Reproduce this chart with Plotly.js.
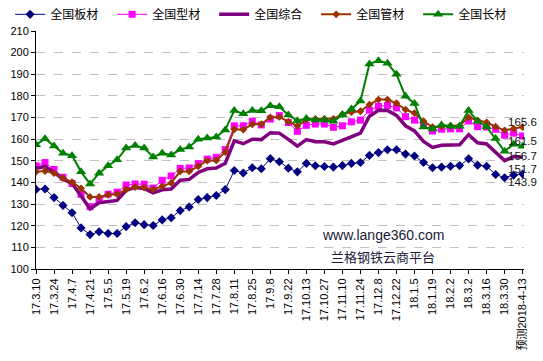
<!DOCTYPE html>
<html>
<head>
<meta charset="utf-8">
<script src="https://cdn.plot.ly/plotly-3.0.1.min.js"></script>
<style>html,body{margin:0;padding:0;background:#fff;}#chart{width:543px;height:361px;}</style>
</head>
<body>
<div id="chart"></div>
<script>
var categories = ["17.3.10","17.3.17","17.3.24","17.3.31","17.4.7","17.4.14","17.4.21","17.4.28","17.5.5","17.5.12",
"17.5.19","17.5.26","17.6.2","17.6.9","17.6.16","17.6.23","17.6.30","17.7.7","17.7.14","17.7.21",
"17.7.28","17.8.4","17.8.11","17.8.18","17.8.25","17.9.1","17.9.8","17.9.15","17.9.22","17.9.29",
"17.10.13","17.10.20","17.10.27","17.11.3","17.11.10","17.11.17","17.11.24","17.12.1","17.12.8","17.12.15",
"17.12.22","17.12.29","18.1.5","18.1.12","18.1.19","18.1.26","18.2.2","18.2.9","18.3.2","18.3.9",
"18.3.16","18.3.23","18.3.30","18.4.6","预测2018-4-13"];

var tickLabels = ["17.3.10","17.3.24","17.4.7","17.4.21","17.5.5","17.5.19","17.6.2","17.6.16","17.6.30","17.7.14",
"17.7.28","17.8.11","17.8.25","17.9.8","17.9.22","17.10.13","17.10.27","17.11.10","17.11.24","17.12.8",
"17.12.22","18.1.5","18.1.19","18.2.2","18.3.2","18.3.16","18.3.30","预测2018-4-13"];

var seriesNames = ["全国板材","全国型材","全国综合","全国管材","全国长材"];

var banCai = [136.8,137.0,133.0,129.4,126.0,119.0,115.9,117.2,116.4,116.4,
119.6,121.4,120.5,120.1,122.7,123.7,127.0,128.7,132.1,133.0,
134.0,136.7,145.5,144.4,146.8,146.3,151.0,149.6,146.6,144.9,
148.8,147.7,147.4,147.1,147.8,148.8,149.2,152.5,153.8,155.1,
155.1,153.1,152.2,149.2,146.8,147.1,147.5,147.8,150.9,148.0,
147.5,143.7,142.2,143.4,143.9];

var xingCai = [147.7,149.2,146.0,142.4,139.5,134.5,128.8,131.8,134.6,135.5,
138.8,139.3,139.2,137.4,141.0,143.0,146.5,146.7,148.7,150.8,
151.6,155.2,166.2,166.2,168.3,166.6,169.3,170.9,167.7,163.6,
166.4,167.0,167.0,165.5,166.2,168.0,168.8,173.4,175.2,175.6,
174.5,170.4,168.8,166.6,163.8,164.6,164.8,164.8,168.4,165.8,
165.6,164.6,161.8,162.8,161.5];

var zongHe = [146.6,147.4,144.8,141.5,139.6,133.6,127.8,130.6,131.1,131.7,
136.4,137.7,137.2,135.2,136.6,137.0,141.0,141.4,144.6,146.3,
146.7,148.9,159.2,157.9,160.0,159.8,163.0,162.8,159.9,156.8,
159.8,158.8,158.8,157.8,159.5,161.3,162.8,170.6,173.4,173.3,
171.0,166.2,163.8,159.0,156.2,157.2,157.4,157.4,162.1,158.3,
157.8,154.0,150.1,152.0,151.7];

var guanCai = [144.9,145.3,144.3,142.0,140.1,137.3,133.3,133.3,134.3,134.6,
136.7,137.9,137.6,136.8,138.2,139.8,145.1,145.1,147.5,150.1,
150.2,154.0,164.6,164.4,166.9,166.9,170.1,170.3,168.1,166.1,
169.0,169.4,169.4,169.4,171.5,172.5,172.9,176.0,178.3,178.3,
176.6,173.7,172.0,168.3,165.6,166.0,166.2,166.2,170.1,168.7,
167.8,165.8,164.1,164.9,165.6];

var changCai = [157.4,160.2,156.9,153.5,152.4,144.9,139.3,144.3,147.7,150.5,
155.9,157.1,155.9,151.8,153.5,152.7,155.2,156.4,160.0,160.5,
161.0,164.3,173.2,171.7,173.3,173.1,175.5,175.0,171.2,168.5,
169.6,168.9,168.9,168.3,171.3,173.9,177.7,194.8,196.2,195.1,
190.0,179.8,176.5,165.6,164.7,166.6,166.0,166.0,173.3,168.3,
165.8,160.3,154.4,157.7,156.7];

var allSeries = [banCai, xingCai, zongHe, guanCai, changCai];
var colors = ["#000080","#FF00FF","#800080","#993300","#008000"];
var lineWidths = [1, 1, 3.5, 2, 2];
var symbols = ["diamond","square",null,"diamond","triangle-up"];
var markerSizes = [7, 7, 0, 6, 9];
var labelShift = [-8, -5, -11.5, 5, -9.5];

var fontFam = "'Liberation Sans', Arial, 'Noto Sans CJK SC', sans-serif";
var cjkFam = "'Noto Sans CJK SC', 'Liberation Sans', sans-serif";

var traces = allSeries.map(function(vals, i) {
  var t = {
    type: "scatter",
    x: categories,
    y: vals,
    name: seriesNames[i],
    line: {color: colors[i], width: lineWidths[i]},
    hoverinfo: "x+y+name"
  };
  if (symbols[i]) {
    t.mode = "lines+markers";
    t.marker = {symbol: symbols[i], size: markerSizes[i], color: colors[i], line: {width: 0}};
  } else {
    t.mode = "lines";
  }
  return t;
});

var last = categories.length - 1;
var annotations = allSeries.map(function(vals, i) {
  return {
    x: categories[last], y: vals[last], xref: "x", yref: "y",
    text: vals[last].toFixed(1), showarrow: false,
    xanchor: "center", yanchor: "middle", yshift: labelShift[i],
    font: {family: fontFam, size: 11.5, color: "#111111"}
  };
});
annotations.push({
  xref: "paper", yref: "paper", x: 0.7106, y: 0.1436,
  text: "www.lange360.com", showarrow: false, xanchor: "center", yanchor: "middle",
  font: {family: fontFam, size: 14, color: "#1a1a3a"}
});
annotations.push({
  xref: "paper", yref: "paper", x: 0.7106, y: 0.0512,
  text: "兰格钢铁云商平台", showarrow: false, xanchor: "center", yanchor: "middle",
  font: {family: cjkFam, size: 13, color: "#1a1a3a"}
});

var layout = {
  width: 543, height: 361,
  margin: {l: 35.5, r: 18.5, t: 31, b: 91.8, pad: 0, autoexpand: false},
  paper_bgcolor: "#ffffff", plot_bgcolor: "#ffffff",
  showlegend: true,
  legend: {
    orientation: "h", x: -0.053, y: 1.07, xanchor: "left", yanchor: "middle",
    entrywidth: 57, entrywidthmode: "pixels",
    font: {family: cjkFam, size: 12, color: "#000000"},
    bgcolor: "rgba(0,0,0,0)", traceorder: "normal", itemclick: false
  },
  xaxis: {
    type: "category",
    range: [0, 54.15],
    tickmode: "array", tickvals: tickLabels, ticktext: tickLabels,
    tickangle: -90,
    ticks: "outside", ticklen: 4, tickcolor: "#000000",
    showline: true, linecolor: "#000000", linewidth: 1,
    showgrid: false, zeroline: false,
    tickfont: {family: fontFam, size: 11, color: "#000000"}
  },
  yaxis: {
    range: [100, 210],
    tickmode: "linear", tick0: 100, dtick: 10,
    ticks: "outside", ticklen: 4, tickcolor: "#000000",
    showline: true, linecolor: "#000000", linewidth: 1,
    showgrid: true, gridcolor: "#c0c0c0", griddash: "dash", gridwidth: 1,
    zeroline: false,
    tickfont: {family: fontFam, size: 11, color: "#000000"}
  },
  annotations: annotations
};

Plotly.newPlot("chart", traces, layout, {displayModeBar: false, staticPlot: true});
</script>
</body>
</html>
